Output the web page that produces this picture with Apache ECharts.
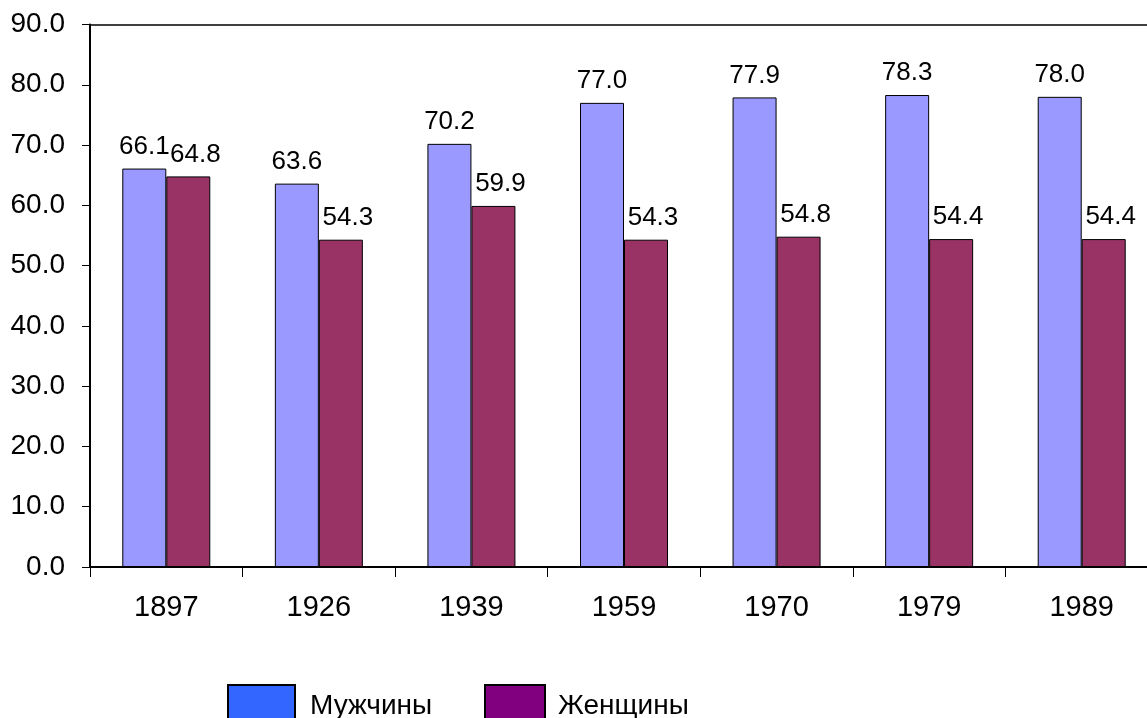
<!DOCTYPE html>
<html>
<head>
<meta charset="utf-8">
<script src="https://cdn.jsdelivr.net/npm/echarts@6/dist/echarts.min.js"></script>
<style>
html,body{margin:0;padding:0;background:#fff;overflow:hidden;width:1147px;height:718px;}
#chart{width:1160px;height:718px;}
</style>
</head>
<body>
<div id="chart"></div>
<script>
const categories = ['1897', '1926', '1939', '1959', '1970', '1979', '1989'];
const menValues = [66.1, 63.6, 70.2, 77.0, 77.9, 78.3, 78.0];
const womenValues = [64.8, 54.3, 59.9, 54.3, 54.8, 54.4, 54.4];
const seriesNames = ['Мужчины', 'Женщины'];

const FONT = '"Liberation Sans", Arial, sans-serif';
const chart = echarts.init(document.getElementById('chart'), null, {renderer: 'canvas'});

const valueLabel = (offset) => ({
  show: true,
  position: 'top',
  distance: 9,
  offset: offset,
  color: '#000',
  fontFamily: FONT,
  fontSize: 26,
  formatter: p => p.value.toFixed(1)
});

chart.setOption({
  animation: false,
  backgroundColor: '#fff',
  grid: {left: 90, top: 24.5, right: 2, bottom: 151, containLabel: false},
  legend: [
    {
      data: [{name: seriesNames[0], itemStyle: {color: '#3366FF', borderColor: '#000', borderWidth: 2}}],
      left: 227, top: 684, padding: 0,
      itemWidth: 67, itemHeight: 42,
      icon: 'rect',
      textStyle: {fontFamily: FONT, fontSize: 28, color: '#000', padding: [0, 0, 0, 10]}
    },
    {
      data: [{name: seriesNames[1], itemStyle: {color: '#800080', borderColor: '#000', borderWidth: 2}}],
      left: 484, top: 684, padding: 0,
      itemWidth: 60, itemHeight: 42,
      icon: 'rect',
      textStyle: {fontFamily: FONT, fontSize: 28, color: '#000', padding: [0, 0, 0, 8]}
    }
  ],
  xAxis: [
    {
      type: 'category',
      data: categories,
      position: 'bottom',
      axisLine: {show: true, lineStyle: {color: '#000', width: 2}},
      axisTick: {show: true, alignWithLabel: false, length: 10, lineStyle: {color: '#000', width: 1}},
      axisLabel: {color: '#000', fontFamily: FONT, fontSize: 29, margin: 26},
      splitLine: {show: false}
    },
    {
      type: 'category',
      data: categories,
      position: 'top',
      axisLine: {show: true, lineStyle: {color: '#000', width: 1.5}},
      axisTick: {show: false},
      axisLabel: {show: false},
      splitLine: {show: false}
    }
  ],
  yAxis: {
    type: 'value',
    min: 0, max: 90, interval: 10,
    axisLine: {show: true, lineStyle: {color: '#000', width: 2}},
    axisTick: {show: true, length: 8, lineStyle: {color: '#000', width: 1}},
    axisLabel: {color: '#000', fontFamily: FONT, fontSize: 28, margin: 25, formatter: v => v.toFixed(1)},
    splitLine: {show: false}
  },
  series: [
    {
      name: seriesNames[0],
      type: 'bar',
      data: menValues,
      barWidth: 44,
      barGap: '0%',
      itemStyle: {color: '#9999FF', borderColor: '#000', borderWidth: 1},
      label: valueLabel([0, 0])
    },
    {
      name: seriesNames[1],
      type: 'bar',
      data: womenValues,
      barWidth: 44,
      barGap: '0%',
      itemStyle: {color: '#993366', borderColor: '#000', borderWidth: 1},
      label: valueLabel([7, 0])
    }
  ]
});
</script>
</body>
</html>
